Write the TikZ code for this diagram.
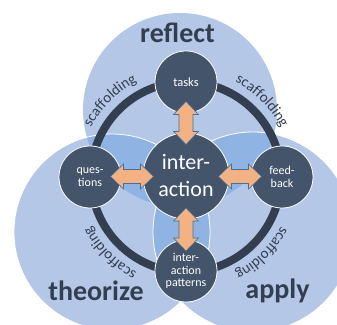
\documentclass[tikz,border=0pt]{standalone}
\usepackage{fontspec}
\setmainfont{Carlito}
\usetikzlibrary{calc,decorations.text}
\definecolor{vennlight}{HTML}{B4C7E7}
\definecolor{venndark}{HTML}{8FB4E3}
\definecolor{ringc}{HTML}{333F50}
\definecolor{nodec}{HTML}{44546A}
\definecolor{arrowc}{HTML}{F4B183}
\definecolor{arrowe}{HTML}{41719C}
\newcommand\scafsize{\fontsize{15}{15}\selectfont}
\tikzset{
 hub/.style={circle, fill=nodec, draw=white, line width=0.8pt, text=white, minimum size=86pt, inner sep=0pt, align=center, font=\fontsize{22}{27}\selectfont},
 spoke/.style={circle, fill=nodec, draw=white, line width=0.8pt, text=white, minimum size=62pt, inner sep=0pt, align=center, font=\fontsize{12}{12.5}\selectfont},
 title/.style={font=\fontsize{28}{28}\selectfont\bfseries, text=ringc, anchor=base, inner sep=0pt},
 dbl/.pic={\draw[fill=arrowc, draw=arrowe, line width=0.6pt] (0,21.5) -- (12.5,8.5) -- (7,8.5) -- (7,-8.5) -- (12.5,-8.5) -- (0,-21.5) -- (-12.5,-8.5) -- (-7,-8.5) -- (-7,8.5) -- (-12.5,8.5) -- cycle;},
 scaf/.style={decorate, decoration={text along path, text align=center, text color=ringc, text={|\scafsize|scaffolding}}}
}
\begin{document}
\begin{tikzpicture}[x=1pt,y=1pt]
\useasboundingbox (0,0) rectangle (337,324);
\clip (0,0) rectangle (337,324);
\coordinate (R) at (180,214);
\coordinate (T) at (112,92);
\coordinate (A) at (253,92);
\coordinate (C) at (186,147);
\fill[vennlight] (R) circle[radius=97];
\fill[vennlight] (T) circle[radius=98];
\fill[vennlight] (A) circle[radius=100];
\begin{scope}
  \clip (R) circle[radius=97];
  \fill[venndark] (T) circle[radius=98];
  \fill[venndark] (A) circle[radius=100];
\end{scope}
\begin{scope}
  \clip (T) circle[radius=98];
  \fill[venndark] (A) circle[radius=100];
\end{scope}
\draw[white, line width=0.8pt] (T) circle[radius=98] (A) circle[radius=100];
\draw[ringc, line width=8pt] (C) circle[radius=95];
\node[hub] (ctr) at (186,148) {inter-\\action};
\node[spoke, font=\fontsize{12.5}{13}\selectfont] (tasks) at (186,242) {tasks};
\node[spoke] (ques) at (90,147) {ques-\\tions};
\node[spoke] (feed) at (282,147) {feed-\\back};
\node[spoke] (pat) at (186,53) {inter-\\action\\patterns};
\pic at ($(tasks.south)!0.5!(ctr.north)$) {dbl};
\pic[rotate=90] at ($(ques.east)!0.5!(ctr.west)$) {dbl};
\pic[rotate=90] at ($(feed.west)!0.5!(ctr.east)$) {dbl};
\pic at ($(pat.north)!0.5!(ctr.south)$) {dbl};
\node[title] (reflect) at (177.5,281) {reflect};
\node[title] (theorize) at (96,24) {theorize};
\node[title] (apply) at (277.5,26) {apply};
\path[scaf] ($(C)+(170:107)$) arc[start angle=170, end angle=100, radius=107];
\path[scaf] ($(C)+(80:107)$) arc[start angle=80, end angle=10, radius=107];
\path[scaf] ($(C)+(-10:107)$) arc[start angle=-10, end angle=-80, radius=107];
\path[scaf] ($(C)+(-100:107)$) arc[start angle=-100, end angle=-170, radius=107];
\end{tikzpicture}
\end{document}
